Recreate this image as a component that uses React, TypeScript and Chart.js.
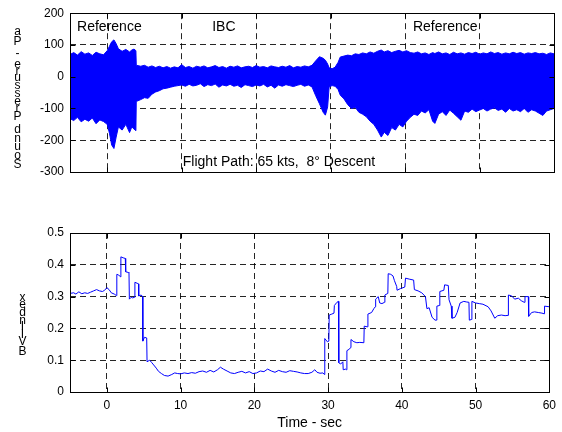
import React, { useEffect, useRef } from "react";
import { Chart, registerables } from "chart.js";

Chart.register(...registerables);

// ---------- data ----------
const timeTicks = [0, 10, 20, 30, 40, 50, 60];
const pressureTicks = [-300, -200, -100, 0, 100, 200];
const bviTicks = [0, 0.1, 0.2, 0.3, 0.4, 0.5];

const pressureLabel = "Sound Pressure - Pa";
const bviLabel = "BVI Index";
const timeLabel = "Time - sec";
const annotationTexts = ["Reference", "IBC", "Reference", "Flight Path: 65 kts,  8\u00B0 Descent"];

// envelope of the sound-pressure trace (upper / lower)
const noiseTime = [
  -5, -4.5, -4, -3.5, -3, -2.5, -2, -1.5, -1, -0.5, 0, 0.3, 0.6, 0.9, 1.2, 1.5, 2, 2.5, 3, 3.3, 3.6, 3.85,
  3.9, 4.5, 5, 5.5, 6, 6.5, 7, 7.5, 8, 8.5, 9, 9.5, 10, 10.5, 11, 11.5, 12, 12.5, 13, 13.5, 14, 14.5,
  15, 15.5, 16, 16.5, 17, 17.5, 18, 18.5, 19, 19.5, 20, 20.5, 21, 21.5, 22, 22.5, 23, 23.5, 24, 24.5,
  25, 25.5, 26, 26.5, 27, 27.5, 28, 28.5, 29, 29.3, 29.6, 29.8, 30.2, 30.6, 31, 31.3, 31.8, 32.3, 32.8,
  33.3, 33.8, 34.3, 34.8, 35.3, 35.8, 36.3, 36.8, 37.2, 37.7, 38.2, 38.7, 39.2, 39.7, 40.2, 40.7, 41.2,
  41.7, 42.2, 42.7, 43.2, 43.7, 44, 44.5, 45, 45.5, 46, 46.5, 47, 47.5, 48, 48.5, 49, 49.5, 50, 50.5,
  51, 51.5, 52, 52.5, 53, 53.5, 54, 54.5, 55, 55.5, 56, 56.5, 57, 57.5, 58, 58.5, 59, 59.5, 60,
];
const noiseUpper = [
  70, 76, 68, 79, 71, 75, 67, 77, 72, 69, 82, 96, 110, 116, 104, 88, 80, 86, 78, 84, 87, 82,
  36, 33, 36, 30, 34, 29, 33, 28, 32, 27, 31, 28, 38, 29, 32, 27, 33, 30, 34, 28, 31, 35,
  29, 32, 27, 33, 30, 34, 28, 31, 33, 29, 35, 30, 32, 28, 34, 31, 29, 33, 30, 35,
  28, 32, 30, 34, 31, 36, 50, 63, 58, 52, 40, 28, 25, 30, 45, 62, 65, 68, 66,
  72, 70, 75, 72, 78, 74, 80, 84, 78, 82, 76, 80, 83, 78, 82, 76, 74,
  78, 72, 75, 70, 76, 73, 78, 72, 75, 70, 77, 72, 75, 71, 76, 73, 77, 71, 75,
  72, 78, 73, 76, 71, 75, 72, 77, 73, 76, 71, 75, 73, 76, 72, 74, 70, 75, 72,
];
const noiseLower = [
  -132, -138, -128, -142, -134, -140, -130, -148, -136, -141, -150, -178, -215, -226, -190, -158, -168, -150, -176, -158, -165, -170,
  -78, -72, -66, -68, -55, -48, -44, -38, -36, -33, -30, -28, -26, -30, -24, -29, -27, -22, -31, -25, -28, -23,
  -33, -26, -29, -24, -30, -27, -34, -25, -28, -31, -26, -29, -24, -32, -27, -36, -26, -30, -25, -28,
  -31, -27, -24, -30, -26, -32, -60, -85, -112, -121, -95, -32, -28, -30, -40, -58, -70, -88, -100,
  -96, -112, -118, -126, -140, -150, -168, -190, -175, -185, -160, -168, -150, -158, -140, -128, -118,
  -122, -108, -114, -104, -140, -147, -118, -110, -122, -105, -115, -126, -137, -108, -112, -102, -110, -105, -100,
  -108, -102, -98, -106, -102, -112, -100, -108, -104, -110, -100, -112, -104, -108, -115, -122, -108, -104, -100,
];

// BVI index trace
const bviTime = [
  -5, -4.5, -4.2, -3.8, -3.4, -3, -2.6, -2.2, -1.8, -1.4, -1, -0.6, -0.3, 0, 0.3, 0.6, 1, 1.3,
  1.35, 1.6, 1.85, 1.9, 2.2, 2.5, 2.55, 2.9, 3, 3.05, 3.3, 3.5, 3.75, 3.8, 4.1, 4.3, 4.32, 4.65, 4.85,
  4.88, 5.1, 5.4, 5.45, 5.8, 6.1, 6.35, 6.7, 7, 7.4, 7.8, 8.3, 8.8, 9.2, 9.6, 10, 10.5, 11, 11.5,
  12, 12.5, 13, 13.5, 14, 14.5, 15, 15.4, 15.8, 16.3, 16.8, 17.3, 17.8, 18.3, 18.8, 19.3, 19.8, 20.3,
  20.8, 21.3, 21.8, 22.3, 22.8, 23.3, 23.8, 24.3, 24.8, 25.3, 25.8, 26.3, 26.8, 27.3, 27.8, 28.2, 28.5,
  28.9, 29.3, 29.5, 29.55, 29.9, 30.1, 30.15, 30.5, 30.8, 30.85, 31.2, 31.4, 31.45, 31.7, 32, 32.05,
  32.4, 32.5, 32.55, 32.9, 33.06, 33.1, 33.5, 33.9, 34.3, 34.85, 34.9, 35.3, 35.4, 35.9, 36.2, 36.4,
  36.45, 36.8, 37, 37.3, 37.65, 37.7, 38.1, 38.15, 38.5, 38.8, 39, 39.3, 39.35, 39.8, 40.4, 40.5, 41,
  41.6, 41.7, 42.2, 42.7, 43.2, 43.4, 43.7, 44.1, 44.5, 44.7, 44.75, 45.1, 45.15, 45.7, 45.8, 46.3,
  46.4, 46.7, 46.8, 47.2, 47.5, 47.9, 48.4, 48.8, 49.1, 49.15, 49.45, 49.5, 50, 50.5, 51, 51.7, 52.1,
  52.6, 53, 53.5, 54, 54.4, 54.45, 54.9, 55.3, 55.8, 56.2, 56.6, 56.7, 57.15, 57.2, 57.6, 58, 58.5,
  59, 59.3, 59.35, 60,
];
const bviValue = [
  0.31, 0.312, 0.308, 0.315, 0.309, 0.312, 0.31, 0.314, 0.318, 0.322, 0.318, 0.316, 0.32, 0.328, 0.322, 0.312, 0.308, 0.303,
  0.37, 0.368, 0.362, 0.425, 0.422, 0.42, 0.378, 0.376, 0.374, 0.292, 0.298, 0.296, 0.298, 0.345, 0.342, 0.34, 0.302, 0.305, 0.3,
  0.16, 0.172, 0.17, 0.095, 0.1, 0.092, 0.085, 0.075, 0.065, 0.058, 0.052, 0.05, 0.055, 0.06, 0.058, 0.057, 0.06, 0.058, 0.061,
  0.059, 0.064, 0.066, 0.062, 0.068, 0.063, 0.07, 0.078, 0.072, 0.066, 0.06, 0.058, 0.062, 0.065, 0.06, 0.064, 0.058, 0.06,
  0.066, 0.064, 0.072, 0.066, 0.062, 0.068, 0.064, 0.062, 0.067, 0.065, 0.063, 0.06, 0.058, 0.058, 0.062, 0.07, 0.062,
  0.059, 0.06, 0.055, 0.168, 0.158, 0.16, 0.242, 0.245, 0.248, 0.272, 0.282, 0.285, 0.092, 0.088, 0.095, 0.07,
  0.072, 0.07, 0.13, 0.135, 0.14, 0.165, 0.158, 0.155, 0.156, 0.155, 0.207, 0.205, 0.245, 0.25, 0.262, 0.268,
  0.292, 0.3, 0.28, 0.278, 0.282, 0.305, 0.31, 0.372, 0.37, 0.365, 0.35, 0.332, 0.32, 0.325, 0.33, 0.358, 0.355,
  0.352, 0.322, 0.318, 0.312, 0.3, 0.262, 0.265, 0.235, 0.226, 0.226, 0.27, 0.272, 0.316, 0.32, 0.337, 0.335,
  0.29, 0.27, 0.232, 0.235, 0.25, 0.28, 0.285, 0.283, 0.282, 0.226, 0.228, 0.285, 0.28, 0.278, 0.276, 0.268, 0.255,
  0.232, 0.24, 0.242, 0.24, 0.241, 0.305, 0.302, 0.292, 0.295, 0.287, 0.282, 0.3, 0.3, 0.238, 0.25, 0.252, 0.25,
  0.248, 0.246, 0.27, 0.268,
];

// ---------- styling helpers ----------
const FONT = "'Liberation Sans', Arial, Helvetica, sans-serif";
const BLUE = "#0000ff";

function fixedTicks(values: number[]) {
  return (scale: any) => {
    scale.ticks = values.map((v) => ({ value: v }));
  };
}

const framePlugin = {
  id: "frame",
  afterDatasetsDraw(chart: any) {
    const { ctx, chartArea, scales } = chart;
    const l = Math.round(chartArea.left) + 0.5;
    const r = Math.round(chartArea.right) + 0.5;
    const t = Math.round(chartArea.top) + 0.5;
    const b = Math.round(chartArea.bottom) + 0.5;
    ctx.save();
    ctx.strokeStyle = "#000";
    ctx.lineWidth = 1;
    ctx.setLineDash([]);
    ctx.beginPath();
    const L = 5;
    for (const tk of scales.x.ticks) {
      const px = Math.round(scales.x.getPixelForValue(tk.value)) + 0.5;
      ctx.moveTo(px, b);
      ctx.lineTo(px, b - L);
      ctx.moveTo(px, t);
      ctx.lineTo(px, t + L);
    }
    for (const tk of scales.y.ticks) {
      const py = Math.round(scales.y.getPixelForValue(tk.value)) + 0.5;
      ctx.moveTo(l, py);
      ctx.lineTo(l + L, py);
      ctx.moveTo(r, py);
      ctx.lineTo(r - L, py);
    }
    ctx.stroke();
    ctx.strokeRect(l, t, r - l, b - t);
    ctx.restore();
  },
};

function drawStacked(ctx: CanvasRenderingContext2D, text: string, cx: number, yBottom: number, yTop: number) {
  ctx.save();
  ctx.font = `12px ${FONT}`;
  ctx.fillStyle = "#000";
  ctx.textAlign = "center";
  ctx.textBaseline = "middle";
  const chars = Array.from(text);
  const widths = chars.map((c) => ctx.measureText(c).width);
  const pos: number[] = [];
  let acc = 0;
  for (const w of widths) {
    pos.push(acc + w / 2);
    acc += w;
  }
  const p0 = pos[0];
  const p1 = pos[pos.length - 1];
  chars.forEach((c, i) => {
    if (c === " ") return;
    const y = yBottom - ((pos[i] - p0) / (p1 - p0)) * (yBottom - yTop);
    ctx.fillText(c, cx, y);
  });
  ctx.restore();
}

const topTextPlugin = {
  id: "topText",
  afterDatasetsDraw(chart: any) {
    const { ctx, scales } = chart;
    const x = scales.x;
    const y = scales.y;
    ctx.save();
    ctx.fillStyle = "#000";
    ctx.font = `14px ${FONT}`;
    ctx.textAlign = "left";
    ctx.textBaseline = "middle";
    const spots = [
      [-4.05, 157],
      [14.1, 157],
      [41.05, 157],
      [10.15, -269],
    ];
    annotationTexts.forEach((txt, i) => {
      ctx.fillText(txt, x.getPixelForValue(spots[i][0]), y.getPixelForValue(spots[i][1]));
    });
    ctx.restore();
    drawStacked(ctx, pressureLabel, 17.5, 165, 32);
  },
};

const bottomTextPlugin = {
  id: "bottomText",
  afterDatasetsDraw(chart: any) {
    const { ctx, chartArea } = chart;
    ctx.save();
    ctx.fillStyle = "#000";
    ctx.font = `14px ${FONT}`;
    ctx.textAlign = "center";
    ctx.textBaseline = "middle";
    ctx.fillText(timeLabel, (chartArea.left + chartArea.right) / 2, 223);
    ctx.restore();
    drawStacked(ctx, bviLabel, 22.5, 151.5, 97.5);
  },
};

const gridCommon = {
  color: "rgba(0,0,0,0.85)",
  lineWidth: 1,
  drawTicks: false,
};

export default function App() {
  const topRef = useRef<HTMLCanvasElement>(null);
  const botRef = useRef<HTMLCanvasElement>(null);

  useEffect(() => {
    const upper = noiseTime.map((t, i) => ({ x: t, y: noiseUpper[i] }));
    const lower = noiseTime.map((t, i) => ({ x: t, y: noiseLower[i] }));
    const bvi = bviTime.map((t, i) => ({ x: t, y: bviValue[i] }));

    const c1 = new Chart(topRef.current as HTMLCanvasElement, {
      type: "line",
      data: {
        datasets: [
          {
            data: upper,
            borderColor: BLUE,
            backgroundColor: BLUE,
            borderWidth: 1,
            pointRadius: 0,
            tension: 0,
            fill: "+1",
          },
          {
            data: lower,
            borderColor: BLUE,
            backgroundColor: BLUE,
            borderWidth: 1,
            pointRadius: 0,
            tension: 0,
            fill: false,
          },
        ],
      },
      options: {
        responsive: false,
        animation: false,
        devicePixelRatio: 1,
        layout: { padding: { left: 0, right: 8, top: 13, bottom: 0 } },
        plugins: { legend: { display: false }, tooltip: { enabled: false }, title: { display: false } },
        scales: {
          x: {
            type: "linear",
            min: -5,
            max: 60,
            afterBuildTicks: fixedTicks(timeTicks),
            afterFit: (s: any) => {
              s.height = 28;
            },
            ticks: { display: false },
            grid: gridCommon,
            border: { display: false, dash: [6, 4] },
          },
          y: {
            type: "linear",
            min: -300,
            max: 200,
            afterBuildTicks: fixedTicks(pressureTicks),
            afterFit: (s: any) => {
              s.width = 70;
            },
            ticks: {
              color: "#000",
              padding: 6,
              font: { family: FONT, size: 12 },
              callback: (v: any) => String(v),
            },
            grid: gridCommon,
            border: { display: false, dash: [6, 4] },
          },
        },
      } as any,
      plugins: [framePlugin, topTextPlugin],
    });

    const c2 = new Chart(botRef.current as HTMLCanvasElement, {
      type: "line",
      data: {
        datasets: [
          {
            data: bvi,
            borderColor: BLUE,
            borderWidth: 1,
            pointRadius: 0,
            tension: 0,
            fill: false,
          },
        ],
      },
      options: {
        responsive: false,
        animation: false,
        devicePixelRatio: 1,
        layout: { padding: { left: 0, right: 8, top: 33, bottom: 0 } },
        plugins: { legend: { display: false }, tooltip: { enabled: false }, title: { display: false } },
        scales: {
          x: {
            type: "linear",
            min: -5,
            max: 60,
            afterBuildTicks: fixedTicks(timeTicks),
            afterFit: (s: any) => {
              s.height = 40;
            },
            ticks: {
              color: "#000",
              padding: 6,
              maxRotation: 0,
              font: { family: FONT, size: 12 },
              callback: (v: any) => String(v),
            },
            grid: gridCommon,
            border: { display: false, dash: [6, 4] },
          },
          y: {
            type: "linear",
            min: 0,
            max: 0.5,
            afterBuildTicks: fixedTicks(bviTicks),
            afterFit: (s: any) => {
              s.width = 70;
            },
            ticks: {
              color: "#000",
              padding: 6,
              font: { family: FONT, size: 12 },
              callback: (v: any) => (v === 0 ? "0" : Number(v).toFixed(1)),
            },
            grid: gridCommon,
            border: { display: false, dash: [6, 4] },
          },
        },
      } as any,
      plugins: [framePlugin, bottomTextPlugin],
    });

    return () => {
      c1.destroy();
      c2.destroy();
    };
  }, []);

  return (
    <div style={{ position: "fixed", left: 0, top: 0, width: 562, height: 432, background: "#fff" }}>
      <canvas ref={topRef} width={562} height={200} style={{ position: "absolute", left: 0, top: 0 }} />
      <canvas ref={botRef} width={562} height={232} style={{ position: "absolute", left: 0, top: 200 }} />
    </div>
  );
}
